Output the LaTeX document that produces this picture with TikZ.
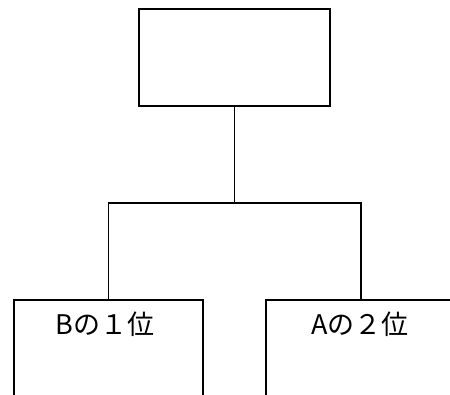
\documentclass[tikz,border=0pt]{standalone}
\usepackage{fontspec}
\newfontfamily\jpfont{Noto Sans CJK JP}
\begin{document}
\begin{tikzpicture}[x=1pt,y=-1pt,
  box/.style={draw, line width=1.3pt, rectangle, inner sep=0pt, minimum width=190pt},
  conn/.style={line width=1.3pt},
  lbl/.style={font=\jpfont\fontsize{27}{30}\selectfont, inner sep=0pt}]
\useasboundingbox (0,0) rectangle (450,394);
\clip (0,0) rectangle (450,394);
\fill[white] (0,0) rectangle (450,394);
\node[box, minimum width=191pt, minimum height=97pt] (top) at (234.5,57.5) {};
\node[box, minimum width=189pt, minimum height=160pt] (lb) at (108.5,380) {};
\node[box, minimum width=190pt, minimum height=160pt] (rb) at (361,380) {};
\node[lbl] (lt) at (105,324) {Bの１位};
\node[lbl] (rt) at (360,324) {Aの２位};
\coordinate (jn) at (234.5,203);
\coordinate (hl) at (108.5,203);
\coordinate (hr) at (361,203);
\draw[conn] (top.south) -- (jn);
\draw[conn] (lb.north) -- (hl) -- (hr) -- (rb.north);
\end{tikzpicture}
\end{document}
